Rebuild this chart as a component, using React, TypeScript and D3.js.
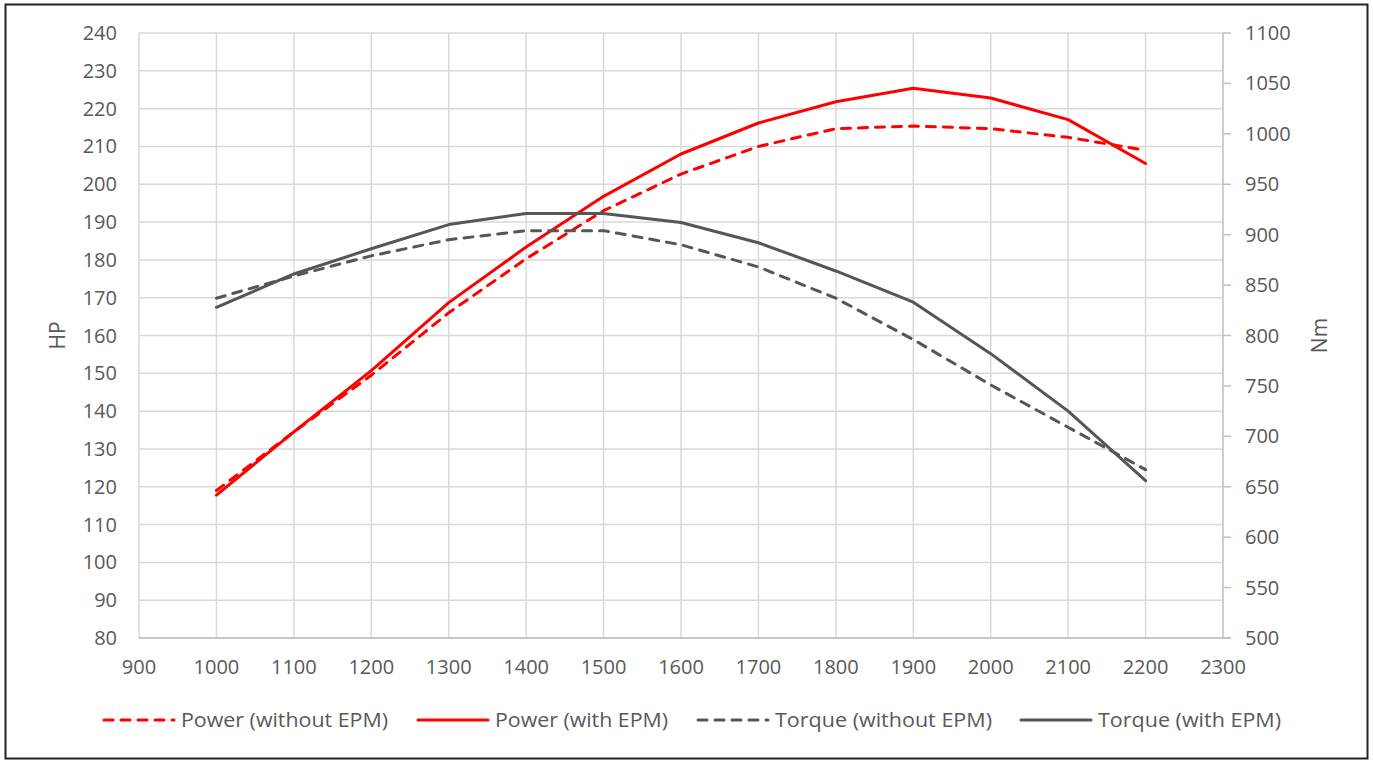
import React, { useEffect, useRef } from 'react';
import * as d3 from 'd3';

const rpm = [1000, 1100, 1200, 1300, 1400, 1500, 1600, 1700, 1800, 1900, 2000, 2100, 2200];
const powerWithout = [119.0, 134.5, 149.5, 166.0, 180.3, 193.0, 202.7, 210.0, 214.7, 215.4, 214.7, 212.4, 209.0];
const powerWith = [117.8, 134.5, 150.7, 168.7, 183.4, 196.8, 208.0, 216.2, 221.8, 225.4, 222.8, 217.1, 205.5];
const torqueWithout = [837, 859, 879, 895, 904, 904, 890, 868, 837, 796, 751, 709, 667];
const torqueWith = [828, 861, 886, 910, 921, 921, 912, 892, 864, 833, 782, 725, 656];

const xTicks = d3.range(900, 2301, 100);
const hpTicks = d3.range(80, 241, 10);
const nmTicks = d3.range(500, 1101, 50);

const seriesNames = ['Power (without EPM)', 'Power (with EPM)', 'Torque (without EPM)', 'Torque (with EPM)'];

const W = 1373;
const H = 760;
const FONT = '"Open Sans", sans-serif';
const TEXT = '#595959';
const RED = '#ff0000';
const GREY = '#565656';

const App: React.FC = () => {
  const svgRef = useRef<SVGSVGElement>(null);

  useEffect(() => {
    if (!svgRef.current) return;
    const svg = d3.select(svgRef.current);
    svg.selectAll('*').remove();

    const plot = { left: 139, right: 1223, top: 33, bottom: 638 };

    const x = d3.scaleLinear().domain([900, 2300]).range([plot.left, plot.right]);
    const yL = d3.scaleLinear().domain([80, 240]).range([plot.bottom, plot.top]);
    const yR = d3.scaleLinear().domain([500, 1100]).range([plot.bottom, plot.top]);

    svg.append('rect')
      .attr('x', 0).attr('y', 0).attr('width', W).attr('height', H)
      .attr('fill', '#fff');

    // frame
    svg.append('rect')
      .attr('x', 5.5).attr('y', 4.5).attr('width', 1362).attr('height', 754)
      .attr('fill', 'none')
      .attr('stroke', '#222')
      .attr('stroke-width', 2);

    // grid
    const grid = svg.append('g').attr('stroke', '#d9d9d9').attr('stroke-width', 1.5);
    grid.selectAll('.h')
      .data(hpTicks)
      .enter().append('line')
      .attr('x1', plot.left).attr('x2', plot.right)
      .attr('y1', d => yL(d)).attr('y2', d => yL(d));
    grid.selectAll('.v')
      .data(xTicks.slice(0, -1))
      .enter().append('line')
      .attr('x1', d => x(d)).attr('x2', d => x(d))
      .attr('y1', plot.top).attr('y2', plot.bottom);

    // bottom axis line + right axis
    const axisCol = '#bfbfbf';
    svg.append('line')
      .attr('x1', plot.left).attr('x2', plot.right + 8)
      .attr('y1', plot.bottom).attr('y2', plot.bottom)
      .attr('stroke', axisCol).attr('stroke-width', 1.5);
    svg.append('line')
      .attr('x1', plot.right).attr('x2', plot.right)
      .attr('y1', plot.top).attr('y2', plot.bottom)
      .attr('stroke', axisCol).attr('stroke-width', 1.5);
    svg.selectAll('.rtick')
      .data(nmTicks)
      .enter().append('line')
      .attr('x1', plot.right).attr('x2', plot.right + 8)
      .attr('y1', d => yR(d)).attr('y2', d => yR(d))
      .attr('stroke', axisCol).attr('stroke-width', 1.5);

    // tick labels
    const labels = svg.append('g')
      .attr('font-family', FONT)
      .attr('font-size', 20)
      .attr('fill', TEXT);

    labels.selectAll('.xl')
      .data(xTicks)
      .enter().append('text')
      .attr('x', d => x(d))
      .attr('y', 667)
      .attr('dy', '0.35em')
      .attr('text-anchor', 'middle')
      .text(d => d);

    labels.selectAll('.yl')
      .data(hpTicks)
      .enter().append('text')
      .attr('x', 117)
      .attr('y', d => yL(d))
      .attr('dy', '0.35em')
      .attr('text-anchor', 'end')
      .text(d => d);

    labels.selectAll('.yr')
      .data(nmTicks)
      .enter().append('text')
      .attr('x', 1245)
      .attr('y', d => yR(d))
      .attr('dy', '0.35em')
      .attr('text-anchor', 'start')
      .text(d => d);

    // axis titles
    labels.append('text')
      .attr('transform', `translate(65,${(plot.top + plot.bottom) / 2}) rotate(-90)`)
      .attr('text-anchor', 'middle')
      .attr('font-size', 21)
      .text('HP');
    labels.append('text')
      .attr('transform', `translate(1327,${(plot.top + plot.bottom) / 2}) rotate(-90)`)
      .attr('text-anchor', 'middle')
      .attr('font-size', 21)
      .text('Nm');

    // series
    const series = [
      { name: seriesNames[0], values: powerWithout, y: yL, color: RED, dash: '9,8' },
      { name: seriesNames[1], values: powerWith, y: yL, color: RED, dash: null },
      { name: seriesNames[2], values: torqueWithout, y: yR, color: GREY, dash: '9,8' },
      { name: seriesNames[3], values: torqueWith, y: yR, color: GREY, dash: null },
    ];

    series.forEach(s => {
      const line = d3.line<number>()
        .x((_, i) => x(rpm[i]))
        .y(d => s.y(d));
      svg.append('path')
        .datum(s.values)
        .attr('fill', 'none')
        .attr('stroke', s.color)
        .attr('stroke-width', 3)
        .attr('stroke-linejoin', 'round')
        .attr('stroke-linecap', 'round')
        .attr('stroke-dasharray', s.dash)
        .attr('d', line);
    });

    // legend
    const legendX = [104, 418, 698, 1021];
    const legendW = [207, 173, 217, 183];
    const legend = svg.append('g')
      .attr('font-family', FONT)
      .attr('font-size', 19.5)
      .attr('fill', TEXT);
    series.forEach((s, i) => {
      const lx = legendX[i];
      legend.append('line')
        .attr('x1', lx).attr('x2', lx + 70)
        .attr('y1', 720).attr('y2', 720)
        .attr('stroke', s.color)
        .attr('stroke-width', 3)
        .attr('stroke-linecap', 'round')
        .attr('stroke-dasharray', s.dash);
      legend.append('text')
        .attr('x', lx + 77)
        .attr('y', 720)
        .attr('dy', '0.35em')
        .attr('textLength', legendW[i])
        .attr('lengthAdjust', 'spacingAndGlyphs')
        .text(s.name);
    });
  }, []);

  return (
    <svg
      ref={svgRef}
      width={W}
      height={H}
      style={{ position: 'absolute', left: 0, top: 0 }}
    />
  );
};

export default App;
